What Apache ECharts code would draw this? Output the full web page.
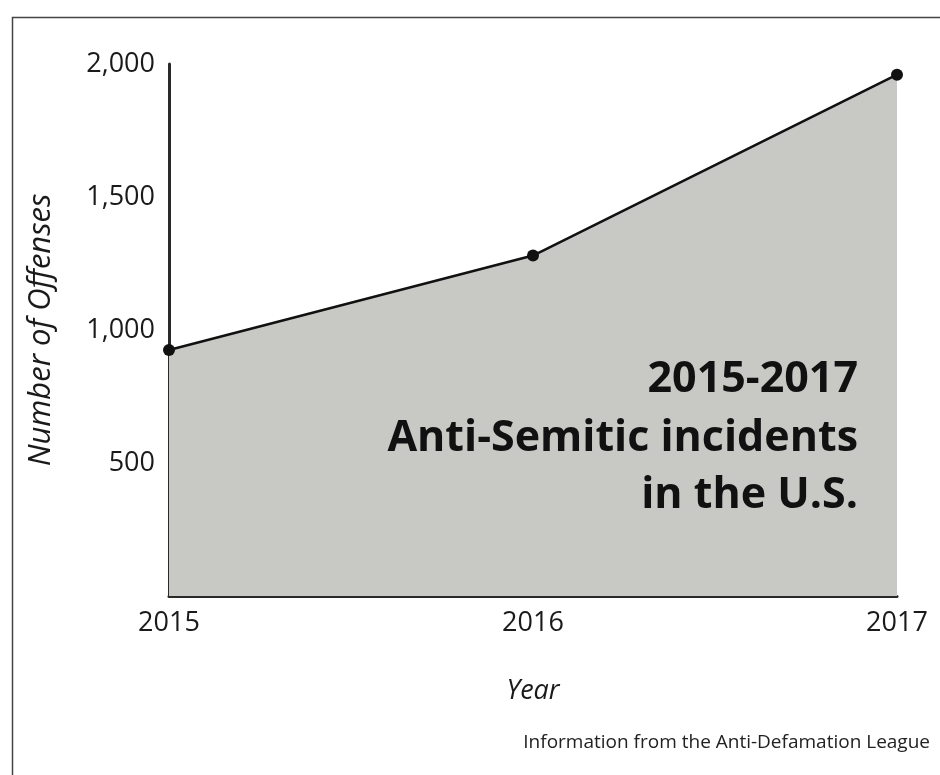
<!DOCTYPE html>
<html>
<head>
<meta charset="utf-8">
<script src="https://cdn.jsdelivr.net/npm/echarts@6/dist/echarts.min.js"></script>
<style>
html,body{margin:0;padding:0;background:#fff;}
#chart{width:940px;height:775px;}
</style>
</head>
<body>
<div id="chart"></div>
<script>
const years = ['2015', '2016', '2017'];
const offenses = [925, 1280, 1960];
const yTicks = [0, 500, 1000, 1500, 2000];
const titleLines = ['2015-2017', 'Anti-Semitic incidents', 'in the U.S.'];
const sourceNote = 'Information from the Anti-Defamation League';

const FONT = '"Open Sans", "Noto Sans", sans-serif';
const chart = echarts.init(document.getElementById('chart'), null, {renderer: 'canvas'});

const titleTops = [358, 417, 474];
const titleGraphics = titleLines.map((t, i) => ({
  type: 'text', right: 82, top: titleTops[i], z: 10,
  style: {
    text: t, fontFamily: FONT, fontWeight: 'bold', fontSize: 43,
    fill: '#111'
  }
}));

chart.setOption({
  backgroundColor: '#ffffff',
  animation: false,
  grid: {left: 169, right: 43, top: 64, bottom: 179, containLabel: false},
  xAxis: {
    type: 'category',
    data: years,
    boundaryGap: false,
    name: 'Year',
    nameLocation: 'middle',
    nameGap: 82,
    nameTextStyle: {fontFamily: FONT, fontStyle: 'italic', fontSize: 27, color: '#1a1a1a'},
    axisLine: {show: true, lineStyle: {color: '#2a2a2a', width: 3}},
    axisTick: {show: false},
    axisLabel: {fontFamily: FONT, fontSize: 27, color: '#1a1a1a', margin: 14},
    splitLine: {show: false}
  },
  yAxis: {
    type: 'value',
    min: yTicks[0],
    max: yTicks[yTicks.length - 1],
    interval: 500,
    name: 'Number of Offenses',
    nameLocation: 'middle',
    nameGap: 112,
    nameRotate: 90,
    nameTextStyle: {fontFamily: FONT, fontStyle: 'italic', fontSize: 31, color: '#1a1a1a'},
    axisLine: {show: true, onZero: false, lineStyle: {color: '#2a2a2a', width: 3}},
    axisTick: {show: false},
    axisLabel: {
      fontFamily: FONT, fontSize: 27, color: '#1a1a1a', margin: 14,
      formatter: v => v === 0 ? '' : v.toLocaleString('en-US')
    },
    splitLine: {show: false}
  },
  series: [{
    type: 'line',
    data: offenses,
    symbol: 'circle',
    symbolSize: 12,
    itemStyle: {color: '#111'},
    lineStyle: {color: '#111', width: 2.5},
    areaStyle: {color: '#c8c9c5', opacity: 1},
    z: 1
  }],
  graphic: [
    {
      type: 'rect', z: -1, silent: true,
      shape: {x: 12.5, y: 17.5, width: 960, height: 800},
      style: {fill: 'none', stroke: '#444', lineWidth: 1.5}
    },
    ...titleGraphics,
    {
      type: 'text', right: 10, top: 733, z: 10,
      style: {text: sourceNote, fontFamily: FONT, fontSize: 19, fill: '#222'}
    }
  ]
});
</script>
</body>
</html>
